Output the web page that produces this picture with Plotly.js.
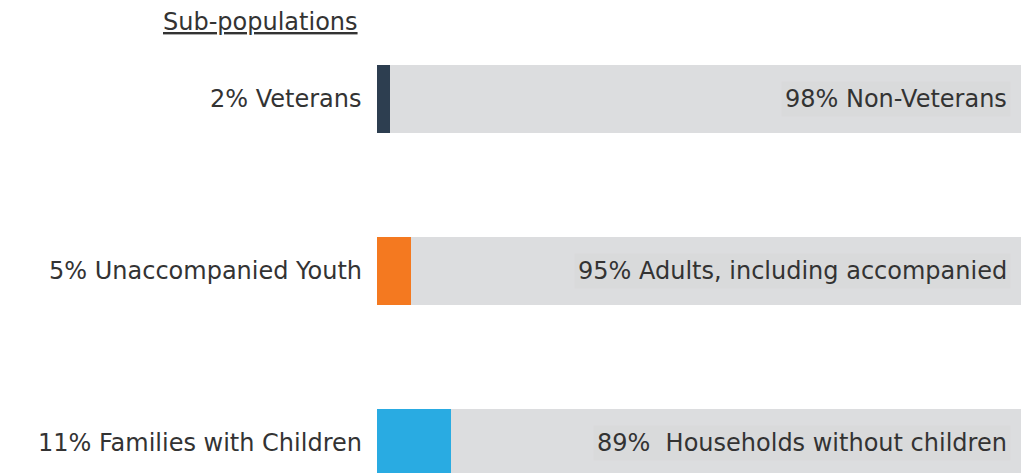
<!DOCTYPE html>
<html>
<head>
<meta charset="utf-8">
<script src="https://cdn.plot.ly/plotly-3.0.1.min.js"></script>
<style>html,body{margin:0;padding:0;background:#fff;}#chart{width:1021px;height:473px;}</style>
</head>
<body>
<div id="chart"></div>
<script>
const categories = ["Veterans", "Unaccompanied Youth", "Families with Children"];
const subgroupValues = [2, 5, 11];
const restValues = [98, 95, 89];
const subgroupLabels = ["2% Veterans", "5% Unaccompanied Youth", "11% Families with Children"];
const restLabels = ["98% Non-Veterans", "95% Adults, including accompanied", "89%  Households without children"];
const subgroupColors = ["#2d3e50", "#f47920", "#29abe2"];
const titleText = "Sub-populations";

const FONT = "DejaVu Sans, sans-serif";
const pos = categories.map((c, i) => i);

const traces = [
  {type: "bar", orientation: "h", y: pos, x: subgroupValues,
   marker: {color: subgroupColors, line: {width: 0}}, hoverinfo: "skip", showlegend: false},
  {type: "bar", orientation: "h", y: pos, x: restValues,
   marker: {color: "#dcdddf", line: {width: 0}}, hoverinfo: "skip", showlegend: false}
];

const annotations = [];
pos.forEach((p, i) => {
  annotations.push({xref: "paper", yref: "y", x: 0, y: p, xanchor: "right", yanchor: "middle",
    xshift: -13, text: subgroupLabels[i], showarrow: false,
    font: {family: FONT, size: 24, color: "#333333"}});
  annotations.push({xref: "paper", yref: "y", x: 1, y: p, xanchor: "right", yanchor: "middle",
    xshift: -10, text: restLabels[i], showarrow: false, bgcolor: "#d9dadb", borderpad: 3,
    font: {family: FONT, size: 24, color: "#333333"}});
});
annotations.push({xref: "paper", yref: "paper", x: 0, y: 0.98, xanchor: "right", yanchor: "middle",
  xshift: -17, text: "<u>" + titleText + "</u>", showarrow: false,
  font: {family: FONT, size: 24, color: "#333333"}});

const layout = {
  width: 1021, height: 473,
  margin: {l: 377, r: 0, t: 13, b: 0, pad: 0},
  paper_bgcolor: "#ffffff", plot_bgcolor: "#ffffff",
  barmode: "stack", bargap: 0.605,
  xaxis: {range: [0, 96], visible: false, fixedrange: true},
  yaxis: {range: [2.174, -0.5], visible: false, fixedrange: true},
  annotations: annotations,
  showlegend: false
};

Plotly.newPlot("chart", traces, layout, {displayModeBar: false, staticPlot: true});
</script>
</body>
</html>
